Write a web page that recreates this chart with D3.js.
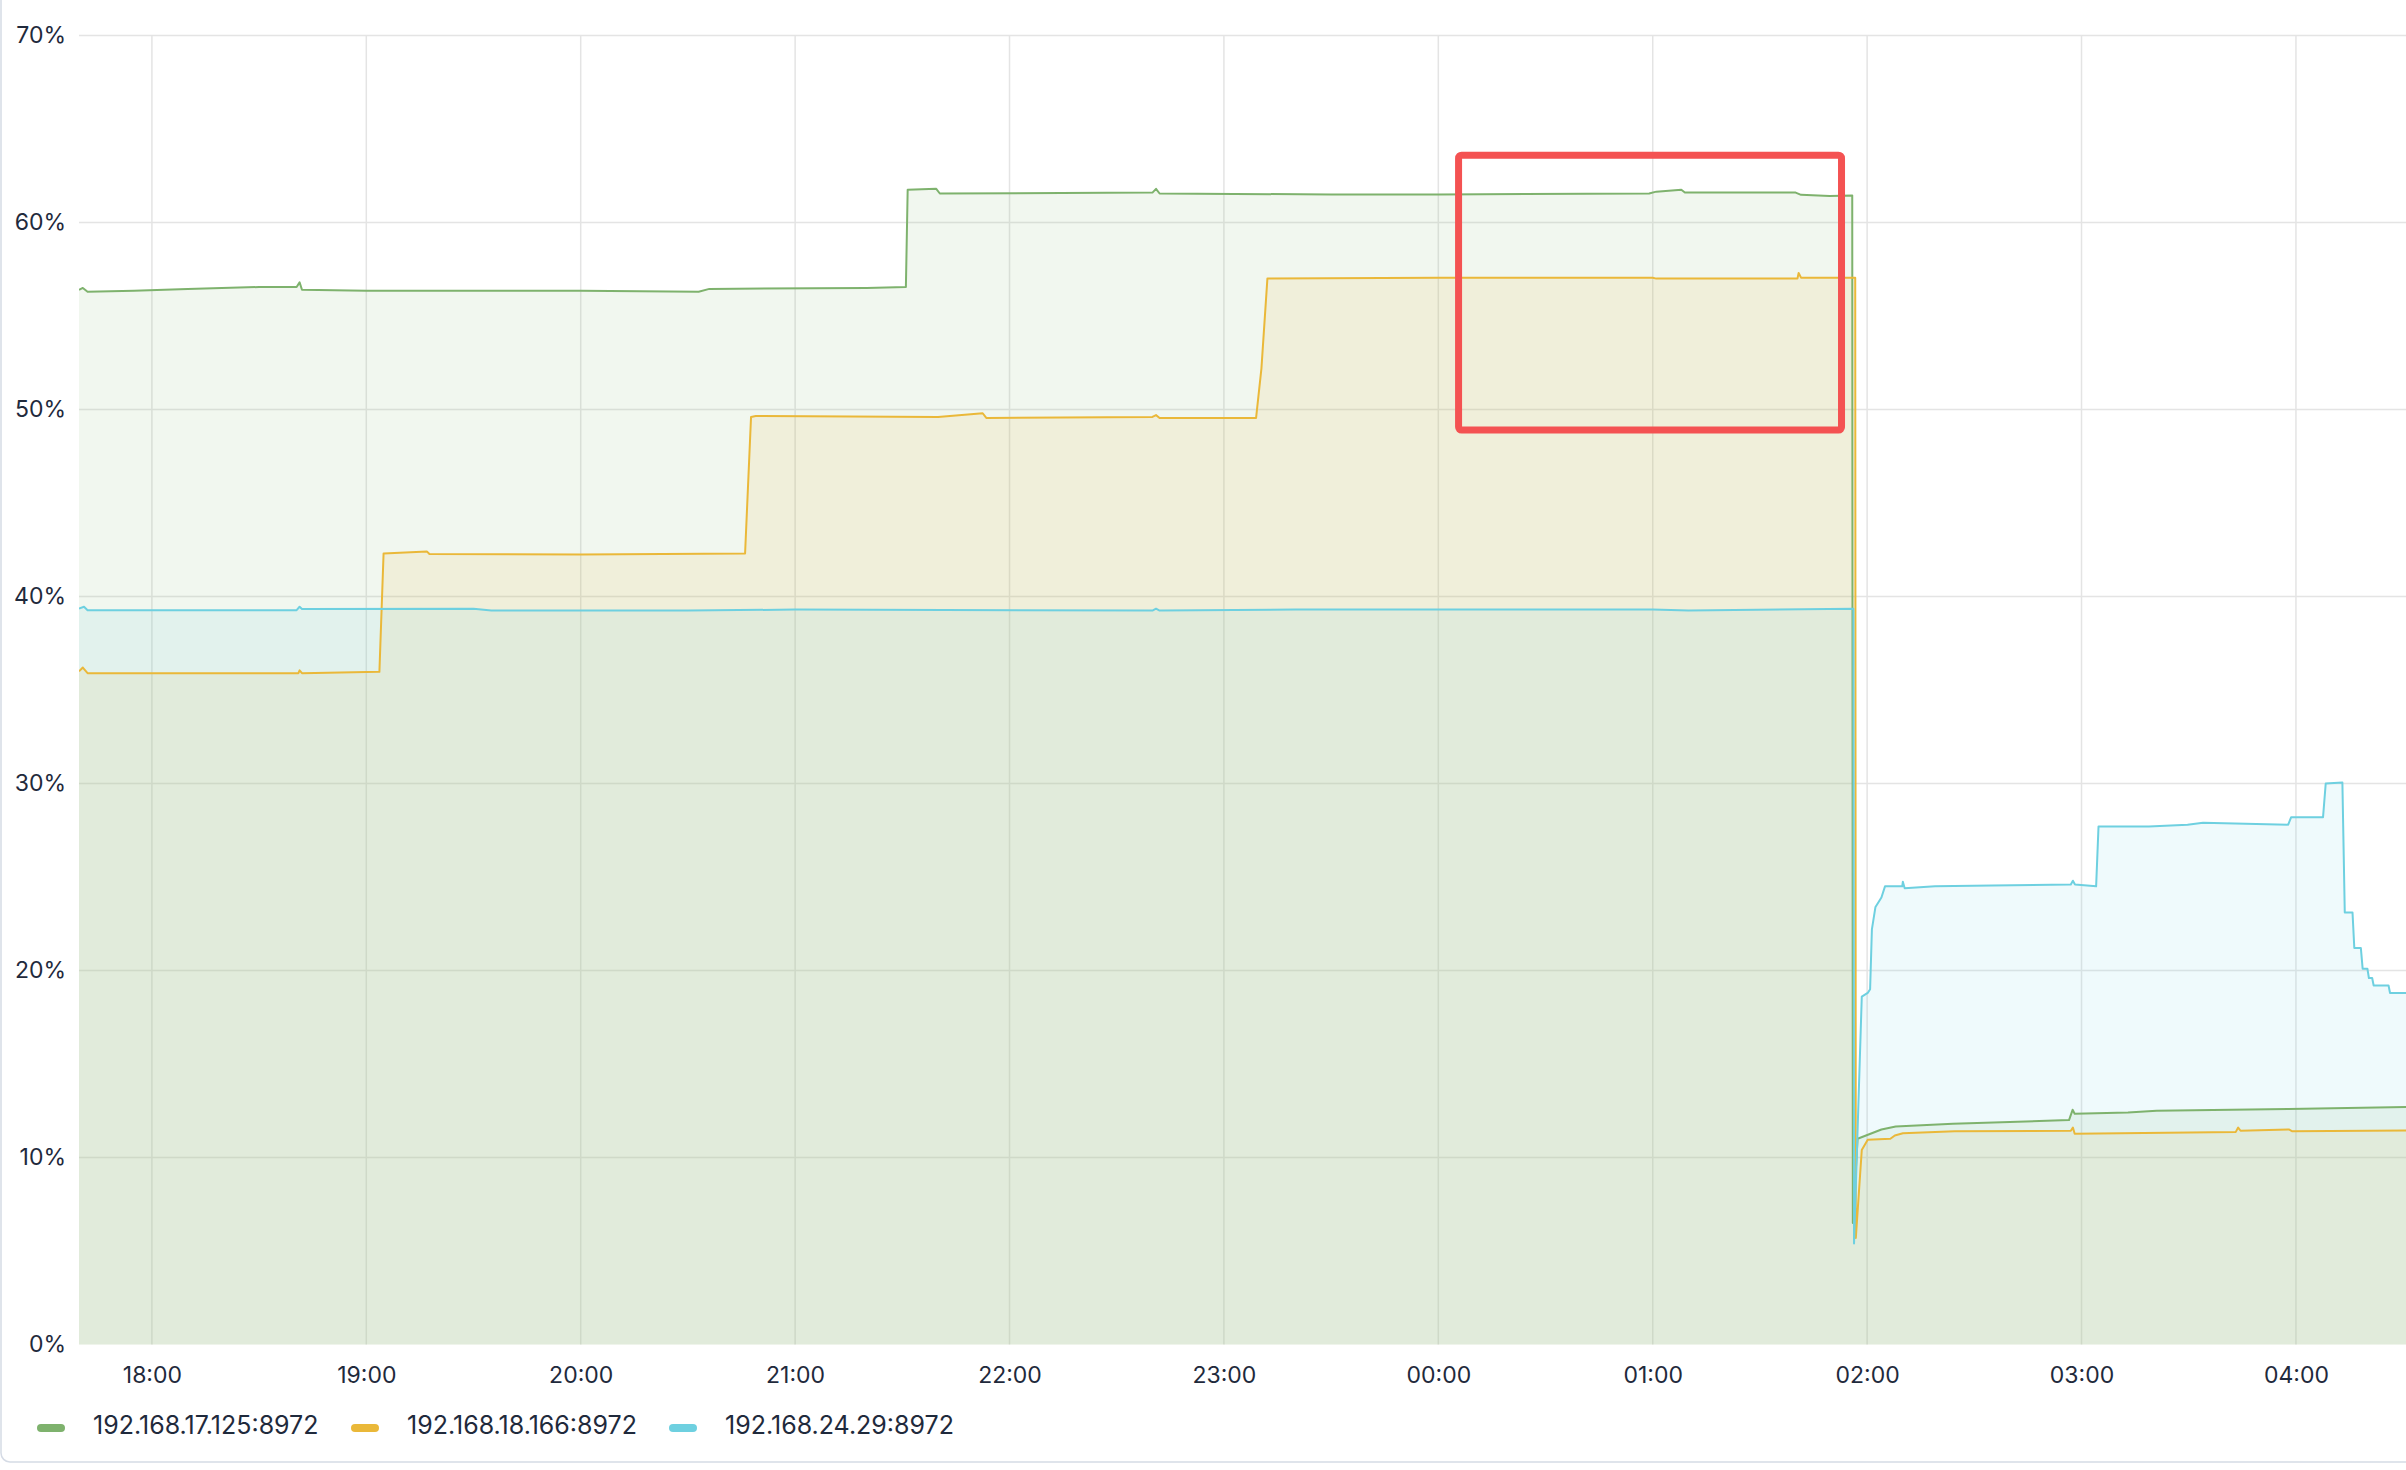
<!DOCTYPE html>
<meta charset="utf-8">
<head>
  <meta charset="UTF-8">
  <title>Memory usage</title>
  <style>
    body { margin: 0; background: #fff; }
    text { font-family: Inter, sans-serif; fill: #1f2a3c; }
  </style>
</head>
<body>
<div id="chart"></div>
<script src="https://d3js.org/d3.v7.min.js"></script>
<script>

// series names + colours (grafana classic palette)
var seriesNames = ["192.168.17.125:8972", "192.168.18.166:8972", "192.168.24.29:8972"];
var seriesColors = ["#7eb26d", "#eab839", "#6ed0e0"];

var hourTicks = ["18:00", "19:00", "20:00", "21:00", "22:00", "23:00", "00:00", "01:00", "02:00", "03:00", "04:00"];
var percentTicks = [0, 10, 20, 30, 40, 50, 60, 70];

var timeRange = ["17:39:36", "04:30:48"];

// [time, percent]
var green = [
  ["17:39:36", 56.4], ["17:40:40", 56.5], ["17:42:00", 56.3], ["17:55:00", 56.35], ["18:10:00", 56.45],
  ["18:30:00", 56.55], ["18:40:30", 56.55], ["18:41:20", 56.8], ["18:42:00", 56.4], ["19:00:00", 56.35],
  ["20:00:00", 56.35], ["20:33:00", 56.3], ["20:36:00", 56.45], ["21:20:00", 56.5], ["21:31:00", 56.55],
  ["21:31:30", 61.75], ["21:39:30", 61.8], ["21:40:30", 61.55], ["22:40:00", 61.6], ["22:41:00", 61.8],
  ["22:42:00", 61.55], ["23:30:00", 61.5], ["00:00:00", 61.5], ["00:59:00", 61.55], ["01:01:00", 61.65],
  ["01:08:00", 61.75], ["01:09:00", 61.6], ["01:40:00", 61.6], ["01:41:30", 61.48], ["01:49:30", 61.42],
  ["01:55:50", 61.45], ["01:56:00", 6.5], ["01:57:20", 11.0], ["02:04:00", 11.5], ["02:08:00", 11.66],
  ["02:24:00", 11.8], ["02:56:30", 12.0], ["02:57:30", 12.55], ["02:58:05", 12.34], ["03:13:00", 12.4],
  ["03:21:00", 12.5], ["03:58:00", 12.6], ["04:30:48", 12.7]
];

var yellow = [
  ["17:39:36", 36.0], ["17:40:40", 36.2], ["17:42:00", 35.9], ["18:41:00", 35.9], ["18:41:20", 36.05],
  ["18:42:00", 35.9], ["19:03:40", 35.97], ["19:04:50", 42.3], ["19:17:00", 42.4], ["19:17:40", 42.27],
  ["20:00:00", 42.25], ["20:46:00", 42.3], ["20:47:40", 49.6], ["20:49:00", 49.65], ["21:40:00", 49.6],
  ["21:52:30", 49.8], ["21:53:30", 49.55], ["22:40:00", 49.6], ["22:41:00", 49.7], ["22:42:00", 49.55],
  ["23:09:00", 49.55], ["23:10:30", 52.2], ["23:12:10", 57.0], ["00:00:00", 57.05], ["01:00:00", 57.05],
  ["01:01:00", 57.0], ["01:40:30", 57.0], ["01:40:50", 57.3], ["01:41:30", 57.05], ["01:56:40", 57.05],
  ["01:56:50", 5.7], ["01:58:30", 10.4], ["02:00:10", 10.95], ["02:06:30", 11.0], ["02:07:45", 11.18],
  ["02:10:00", 11.3], ["02:24:30", 11.4], ["02:57:00", 11.43], ["02:57:35", 11.6], ["02:58:05", 11.27],
  ["03:43:10", 11.37], ["03:43:50", 11.6], ["03:44:30", 11.43], ["03:58:00", 11.5], ["03:59:00", 11.4],
  ["04:30:48", 11.45]
];

var cyan = [
  ["17:39:36", 39.36], ["17:41:00", 39.45], ["17:42:00", 39.27], ["18:40:30", 39.27], ["18:41:20", 39.45],
  ["18:42:00", 39.33], ["19:30:00", 39.35], ["19:35:00", 39.25], ["20:30:00", 39.25], ["21:00:00", 39.3],
  ["22:40:00", 39.25], ["22:41:00", 39.35], ["22:42:00", 39.25], ["23:20:00", 39.3], ["00:00:00", 39.3],
  ["01:00:00", 39.3], ["01:10:00", 39.25], ["01:56:10", 39.35], ["01:56:20", 5.4], ["01:58:30", 18.6],
  ["02:00:10", 18.8], ["02:00:50", 19.0], ["02:01:20", 22.2], ["02:02:20", 23.4], ["02:04:00", 23.9],
  ["02:05:00", 24.5], ["02:09:50", 24.5], ["02:10:00", 24.75], ["02:10:30", 24.4], ["02:19:00", 24.5],
  ["02:35:00", 24.55], ["02:57:00", 24.6], ["02:57:35", 24.8], ["02:58:10", 24.6], ["03:04:05", 24.5],
  ["03:04:45", 27.7], ["03:18:50", 27.7], ["03:29:40", 27.8], ["03:34:00", 27.9], ["03:57:50", 27.8],
  ["03:58:40", 28.2], ["04:07:35", 28.2], ["04:08:20", 30.0], ["04:13:00", 30.05], ["04:13:40", 23.1],
  ["04:15:50", 23.1], ["04:16:20", 21.2], ["04:18:10", 21.2], ["04:18:40", 20.1], ["04:20:00", 20.1],
  ["04:20:25", 19.6], ["04:21:20", 19.6], ["04:21:45", 19.2], ["04:25:55", 19.2], ["04:26:20", 18.8],
  ["04:30:48", 18.8]
];

// red highlight box (time range + percent range)
var boxTimes = ["00:05:40", "01:52:50"];
var boxValues = [63.6, 48.9];

// times after midnight belong to the next day
function parseTime(s) {
  var p = s.split(":").map(Number);
  var day = p[0] < 12 ? 2 : 1;
  return new Date(2024, 0, day, p[0], p[1], p[2] || 0);
}

var width = 2406, height = 1470;
var plotLeft = 79, plotRight = 2406, plotTop = 35.5, plotBottom = 1344.5;

var svg = d3.select("#chart").append("svg")
    .attr("width", width)
    .attr("height", height);

// panel card
svg.append("rect")
    .attr("x", 1).attr("y", -20)
    .attr("width", width + 20).attr("height", 1462 + 20)
    .attr("rx", 9)
    .attr("fill", "#fff")
    .attr("stroke", "#d5dbe5")
    .attr("stroke-width", 1.5);

var x = d3.scaleTime()
    .domain(timeRange.map(parseTime))
    .range([plotLeft, plotRight]);

var y = d3.scaleLinear()
    .domain([0, 70])
    .range([plotBottom, plotTop]);

var hourDates = hourTicks.map(parseTime);

// grid
var grid = svg.append("g");
grid.selectAll(".hgrid")
  .data(percentTicks.filter(function(d) { return d > 0; }))
  .enter().append("line")
    .attr("x1", plotLeft).attr("x2", plotRight)
    .attr("y1", function(d) { return y(d); })
    .attr("y2", function(d) { return y(d); })
    .attr("stroke", "#e4e4e4")
    .attr("stroke-width", 1.5);

grid.selectAll(".vgrid")
  .data(hourDates)
  .enter().append("line")
    .attr("x1", function(d) { return x(d); })
    .attr("x2", function(d) { return x(d); })
    .attr("y1", plotTop).attr("y2", plotBottom)
    .attr("stroke", "#e4e4e4")
    .attr("stroke-width", 1.5);

var allSeries = [green, yellow, cyan].map(function(s) {
  return s.map(function(d) { return {t: parseTime(d[0]), v: d[1]}; });
});

var area = d3.area()
    .x(function(d) { return x(d.t); })
    .y0(y(0))
    .y1(function(d) { return y(d.v); });

var line = d3.line()
    .x(function(d) { return x(d.t); })
    .y(function(d) { return y(d.v); });

svg.append("clipPath").attr("id", "clip")
  .append("rect")
    .attr("x", plotLeft).attr("y", 0)
    .attr("width", plotRight - plotLeft).attr("height", plotBottom + 1);

var plot = svg.append("g").attr("clip-path", "url(#clip)");

plot.selectAll(".area")
  .data(allSeries)
  .enter().append("path")
    .attr("d", area)
    .attr("fill", function(d, i) { return seriesColors[i]; })
    .attr("fill-opacity", 0.11);

plot.selectAll(".line")
  .data(allSeries)
  .enter().append("path")
    .attr("d", line)
    .attr("fill", "none")
    .attr("stroke", function(d, i) { return seriesColors[i]; })
    .attr("stroke-width", 2)
    .attr("stroke-linejoin", "round");

// axes
var yAxis = svg.append("g").attr("transform", "translate(66,0)")
    .call(d3.axisLeft(y).tickValues(percentTicks).tickSize(0).tickPadding(0)
      .tickFormat(function(d) { return d + "%"; }));
yAxis.select(".domain").remove();
yAxis.selectAll("text")
    .style("font-size", "23px")
    .attr("fill", "#1f2a3c");

var xAxis = svg.append("g").attr("transform", "translate(0," + plotBottom + ")")
    .call(d3.axisBottom(x).tickValues(hourDates).tickSize(0).tickPadding(22)
      .tickFormat(d3.timeFormat("%H:%M")));
xAxis.select(".domain").remove();
xAxis.selectAll("text")
    .style("font-size", "23px")
    .attr("fill", "#1f2a3c");

// red highlight box
svg.append("rect")
    .attr("x", x(parseTime(boxTimes[0])))
    .attr("y", y(boxValues[0]))
    .attr("width", x(parseTime(boxTimes[1])) - x(parseTime(boxTimes[0])))
    .attr("height", y(boxValues[1]) - y(boxValues[0]))
    .attr("rx", 3)
    .attr("fill", "none")
    .attr("stroke", "#f45252")
    .attr("stroke-width", 7);

// legend
var legendX = [37, 351, 669];
var legend = svg.append("g").selectAll(".legend")
  .data(seriesNames)
  .enter().append("g")
    .attr("transform", function(d, i) { return "translate(" + legendX[i] + ",1428)"; });

legend.append("rect")
    .attr("x", 0).attr("y", -4)
    .attr("width", 28).attr("height", 8)
    .attr("rx", 4)
    .attr("fill", function(d, i) { return seriesColors[i]; });

legend.append("text")
    .attr("x", 56).attr("y", -2.5)
    .attr("dy", "0.35em")
    .style("font-size", "25px")
    .text(function(d) { return d; });

</script>
</body>
